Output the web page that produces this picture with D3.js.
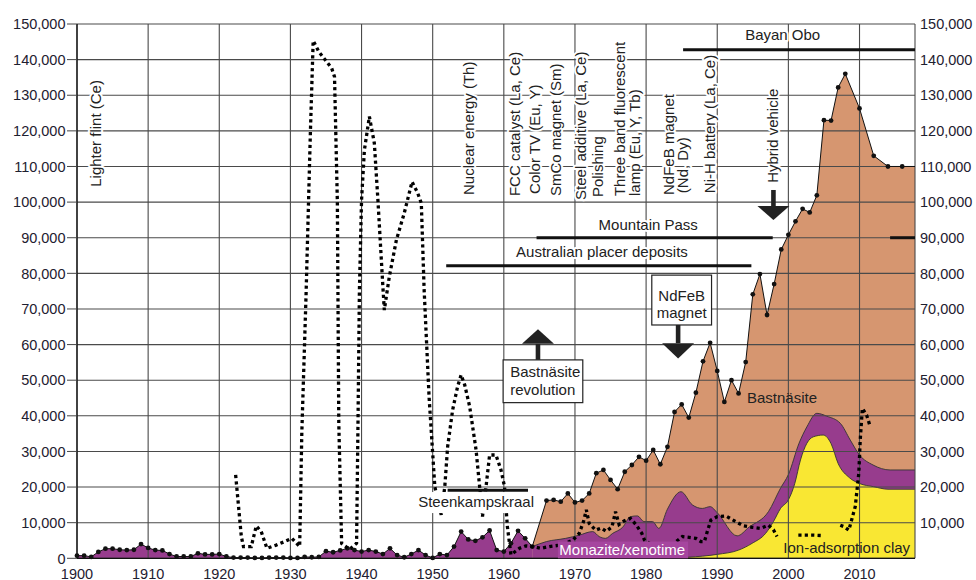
<!DOCTYPE html>
<html>
<head>
<meta charset="utf-8">
<script src="https://cdn.jsdelivr.net/npm/d3@7"></script>
<style>
  body { margin: 0; background: #fff; }
  svg { display: block; font-family: "Liberation Sans", Arial, sans-serif; }
</style>
</head>
<body>
<svg id="chart" width="976" height="580"></svg>
<script>
// world rare earth production (t REO)
const total = [
  [1900, 750], [1901, 750], [1902, 400], [1903, 1800], [1904, 2700], [1905, 2700],
  [1906, 2400], [1907, 2300], [1908, 2400], [1909, 4000], [1910, 2900], [1911, 2300],
  [1912, 2200], [1913, 1200], [1914, 500], [1915, 500], [1916, 500], [1917, 1400],
  [1918, 1100], [1919, 1100], [1920, 1200], [1921, 500], [1922, 200], [1923, 200],
  [1924, 200], [1925, 100], [1926, 100], [1927, 200], [1928, 200], [1929, 200],
  [1930, 100], [1931, 100], [1932, 400], [1933, 300], [1934, 400], [1935, 2000],
  [1936, 1700], [1937, 2200], [1938, 2800], [1939, 2300], [1940, 1900], [1941, 2300],
  [1942, 1900], [1943, 1200], [1944, 2800], [1945, 900], [1946, 300], [1947, 1200],
  [1948, 2300], [1949, 900], [1950, 100], [1951, 1200], [1952, 900], [1953, 3300],
  [1954, 7500], [1955, 5300], [1956, 4900], [1957, 5900], [1958, 7800], [1959, 2300],
  [1960, 1900], [1961, 4200], [1962, 7700], [1963, 5600], [1964, 3300],
  [1966, 16200], [1967, 16400], [1968, 15900], [1969, 18200], [1970, 15700],
  [1971, 16200], [1972, 18200], [1973, 23900], [1974, 24800], [1975, 22000],
  [1976, 19400], [1977, 24300], [1978, 26200], [1979, 28500], [1980, 27400],
  [1981, 30400], [1982, 26400], [1983, 31300], [1984, 41100], [1985, 43200],
  [1986, 39500], [1987, 46500], [1988, 55300], [1989, 60500], [1990, 52600],
  [1991, 43900], [1992, 50000], [1993, 46300], [1994, 55100], [1995, 74100],
  [1996, 79800], [1997, 68300], [1998, 77000], [1999, 86700], [2000, 90800],
  [2001, 94600], [2002, 98100], [2003, 97100], [2004, 101900], [2005, 123000],
  [2006, 122900], [2007, 132200], [2008, 136000], [2010, 126300], [2012, 113000],
  [2014, 110000], [2016, 110000]
];

// upper edge of the monazite/xenotime band after bastnasite appears
const monaziteTop = [
  [1964, 3300], [1966, 4700], [1968.7, 5600], [1970.6, 6500], [1972.5, 7500],
  [1973.4, 6100], [1974.3, 5600], [1975.3, 7000], [1976.7, 8700], [1977.8, 11700],
  [1978.8, 11900], [1979.7, 10300], [1980.9, 10300], [1981.8, 8400], [1983, 13800],
  [1984.9, 18700], [1986.5, 15000], [1987.9, 14000], [1989, 14500], [1990, 12800],
  [1992.8, 6300], [1994.5, 8800], [1997.2, 13100], [1998.9, 19700], [2000, 23500],
  [2001.5, 32300], [2002.6, 36900], [2004, 40700], [2005.4, 39900], [2007.3, 37900],
  [2008.7, 33200], [2010, 29000], [2011.9, 26200], [2014.3, 24800], [2017.8, 24800]
];

// upper edge of the ion-adsorption clay band
const clayTop = [
  [1985.9, 300], [1990, 1100], [1993, 2300], [1994.9, 4200], [1996.8, 7000],
  [1997.9, 10300], [1998.9, 14000], [2000, 16400], [2000.9, 21000], [2001.7, 27600],
  [2002.6, 32300], [2003.5, 34100], [2004.9, 34600], [2006, 32200], [2007, 26600],
  [2008.6, 22600], [2010, 21000], [2012, 20100], [2014, 19400], [2017.8, 19400]
];

// dotted series (null = break in the line)
const dotted = [
  [1922.3, 23400], [1923.1, 6100], [1923.4, 3300], [1924.5, 3300], [1925.2, 9100],
  [1925.9, 7500], [1926.7, 2800], [1928.0, 3700], [1929.2, 4700], [1930.2, 5600],
  [1931.3, 3300], [1931.6, 35000], [1932.2, 74000], [1932.8, 119000], [1933.2, 145300],
  [1934.0, 142200], [1935.8, 137600], [1936.2, 135200], [1936.6, 100000], [1936.8, 38000],
  [1937.2, 4200], [1938.3, 2500], [1939.3, 4200], [1939.5, 37900], [1939.7, 75300],
  [1940.0, 100600], [1940.4, 114600], [1941.1, 124000], [1941.8, 116500], [1942.3, 100600],
  [1943.0, 76200], [1943.2, 69700], [1943.9, 79000], [1944.9, 89400], [1946.0, 96900],
  [1947.1, 105700], [1947.9, 102500], [1948.4, 99700], [1948.8, 75300], [1949.5, 45000],
  [1950.3, 20100], [1951.2, 12200], [1951.7, 20100], [1952.1, 31300], [1952.8, 41600],
  [1953.5, 48200], [1954.0, 51500], [1954.5, 48700], [1955.2, 42600], [1956.1, 30400],
  [1956.6, 20100], [1957.0, 11700], [1957.5, 20100], [1958.0, 29000], [1958.9, 29000],
  [1959.6, 24800], [1960.1, 20100], [1960.5, 8900], [1961.0, 1000], [1962.2, 2800],
  [1963.1, 3500], [1964.0, 3300], [1965.2, 2800], [1966.4, 3300], [1967.6, 3600],
  [1968.7, 4200], [1969.7, 5100], [1970.6, 7000], [1971.2, 10300], [1971.6, 13600],
  [1972.0, 9800], [1972.9, 7900], [1973.7, 8500], [1974.4, 7600], [1975.2, 8800],
  [1975.7, 13100], [1976.2, 9500], [1976.9, 10500], [1977.8, 11200], [1978.6, 9400],
  [1979.4, 7000], [1979.8, 5000], [1981.5, 3000], [1983.5, 3500], [1985.1, 6100],
  [1986.3, 5800], [1987.0, 5600], [1987.7, 4700], [1988.2, 4700], [1988.6, 7500],
  [1989.1, 10700], [1990.0, 11700], [1991.2, 11900], [1992.6, 10300], [1993.7, 9100],
  [1994.9, 8700], [1996.1, 8400], [1997.2, 9300], [1997.9, 8000], [1998.4, 6100],
  null,
  [2001.4, 6500], [2003.5, 6500], [2004.6, 6400],
  null,
  [2007.3, 9300], [2007.8, 8900], [2008.5, 7900], [2009.4, 14500], [2009.9, 23900],
  [2010.1, 33200], [2010.4, 42100], [2011.0, 40200], [2011.5, 37000]
];

const xTicks = d3.range(1900, 2011, 10);
const yTicks = d3.range(0, 150001, 10000);

// deposits: [label, start, end, level]
const deposits = [
  ["Bayan Obo", 1985.2, 2017.8, 142800],
  ["Mountain Pass", 1964.6, 1997.8, 90000],
  ["", 2014.3, 2017.8, 90000],
  ["Australian placer deposits", 1951.9, 1994.8, 82100],
  ["Steenkampskraal", 1952.1, 1963.4, 19100]
];

// rotated application labels: [text, year of baseline, level where text starts]
const uses = [
  ["Lighter flint (Ce)", 1903.4, 104300],
  ["Nuclear energy (Th)", 1955.8, 102000],
  ["FCC catalyst (La, Ce)", 1962.3, 101700],
  ["Color TV (Eu, Y)", 1965.1, 102300],
  ["SmCo magnet (Sm)", 1968.0, 101700],
  ["Steel additive (La, Ce)", 1971.6, 100600],
  ["Polishing", 1973.9, 101400],
  ["Three band fluorescent", 1977.0, 101700],
  ["lamp (Eu, Y, Tb)", 1979.1, 101700],
  ["NdFeB magnet", 1983.9, 102000],
  ["(Nd, Dy)", 1985.9, 102500],
  ["Ni-H battery (La, Ce)", 1989.7, 102500],
  ["Hybrid vehicle", 1998.6, 105400]
];

const x = d3.scaleLinear().domain([1900, 2017.8]).range([77, 915]);
const y = d3.scaleLinear().domain([0, 150000]).range([558.3, 24]);
const xEnd = x.domain()[1];

const svg = d3.select("#chart");

const orange = "#d69670", purple = "#973c8d", yellow = "#f9e733";

// areas
const areaLin = d3.area().x(d => x(d[0])).y0(y(0)).y1(d => y(d[1]));
const areaSmooth = d3.area().x(d => x(d[0])).y0(y(0)).y1(d => y(d[1])).curve(d3.curveMonotoneX);
const lineSmooth = d3.line().x(d => x(d[0])).y(d => y(d[1])).curve(d3.curveMonotoneX);

const lastTotal = total[total.length - 1][1];
const bast = total.filter(d => d[0] >= 1964).concat([[xEnd, lastTotal]]);
svg.append("path").attr("d", areaLin(bast)).attr("fill", orange);
svg.append("path").attr("d", areaLin(total.filter(d => d[0] <= 1964))).attr("fill", purple);
svg.append("path").attr("d", areaSmooth(monaziteTop)).attr("fill", purple);
svg.append("path").attr("d", areaSmooth(clayTop)).attr("fill", yellow);
svg.append("path").attr("d", lineSmooth(monaziteTop)).attr("fill", "none").attr("stroke", "#333").attr("stroke-width", 0.9);
svg.append("path").attr("d", lineSmooth(clayTop)).attr("fill", "none").attr("stroke", "#333").attr("stroke-width", 0.9);

// grid
const grid = svg.append("g").attr("stroke", "#4a4a4a").attr("stroke-width", 1.1);
grid.selectAll(".h").data(yTicks).join("line")
  .attr("x1", x(1900)).attr("x2", x(xEnd))
  .attr("y1", d => y(d)).attr("y2", d => y(d));
grid.selectAll(".v").data(xTicks.concat([xEnd])).join("line")
  .attr("x1", d => x(d)).attr("x2", d => x(d))
  .attr("y1", y(0)).attr("y2", y(150000));
svg.append("line").attr("x1", x(1900)).attr("x2", x(1900)).attr("y1", y(0)).attr("y2", y(150000))
  .attr("stroke", "#111").attr("stroke-width", 1.3);
svg.append("line").attr("x1", x(1900)).attr("x2", x(xEnd)).attr("y1", y(0)).attr("y2", y(0))
  .attr("stroke", "#111").attr("stroke-width", 1.3);

// total production line with dots
svg.append("path")
  .attr("d", d3.line().x(d => x(d[0])).y(d => y(d[1]))(total.concat([[xEnd, lastTotal]])))
  .attr("fill", "none").attr("stroke", "#111").attr("stroke-width", 1);
svg.append("g").selectAll("circle").data(total).join("circle")
  .attr("cx", d => x(d[0])).attr("cy", d => y(d[1])).attr("r", 2.4).attr("fill", "#111");

// dotted series
svg.append("path")
  .attr("d", d3.line().defined(d => d !== null).x(d => x(d[0])).y(d => y(d[1]))(dotted))
  .attr("fill", "none").attr("stroke", "#000").attr("stroke-width", 3.3)
  .attr("stroke-dasharray", "3.2,3.2");

// white backing of the Steenkampskraal label
svg.append("rect")
  .attr("x", x(1947.7)).attr("y", y(18600))
  .attr("width", x(1964.5) - x(1947.7)).attr("height", y(12700) - y(18600))
  .attr("fill", "#fff");

// deposit bars
deposits.forEach(([label, a, b, v]) => {
  svg.append("line").attr("x1", x(a)).attr("x2", x(b)).attr("y1", y(v)).attr("y2", y(v))
    .attr("stroke", "#111").attr("stroke-width", 3);
});

const halo = sel => sel.attr("stroke", "#fff").attr("stroke-width", 4)
  .attr("paint-order", "stroke").attr("stroke-linejoin", "round");

const labels = [
  ["Bayan Obo", 1999.2, 145500],
  ["Mountain Pass", 1980.3, 92300],
  ["Australian placer deposits", 1973.8, 84700],
  ["Steenkampskraal", 1956.1, 14500]
];
svg.append("g").selectAll("text").data(labels).join("text")
  .attr("x", d => x(d[1])).attr("y", d => y(d[2]))
  .attr("text-anchor", "middle").style("font-size", "15px").attr("fill", "#222")
  .text(d => d[0]).call(halo);

// rotated use labels
svg.append("g").selectAll("text").data(uses).join("text")
  .attr("transform", d => `translate(${x(d[1])},${y(d[2])}) rotate(-90)`)
  .style("font-size", "15px").attr("fill", "#222")
  .text(d => d[0]).call(halo);

// arrows
function arrow(cx, yFrom, yBase, yTip) {
  const c = x(cx), hw = 16;
  svg.append("rect").attr("x", c - 2.3).attr("width", 4.6)
    .attr("y", Math.min(y(yFrom), y(yBase))).attr("height", Math.abs(y(yFrom) - y(yBase)))
    .attr("fill", "#222");
  svg.append("path")
    .attr("d", `M${c - hw},${y(yBase)}L${c + hw},${y(yBase)}L${c},${y(yTip)}Z`)
    .attr("fill", "#222");
}
arrow(1997.9, 103400, 98900, 95000);
arrow(1964.8, 55700, 60200, 64300);
arrow(1984.5, 65500, 60400, 56100);

// boxes
function box(x0, x1, v0, v1, lines, anchor, tx) {
  svg.append("rect").attr("x", x(x0)).attr("y", y(v0))
    .attr("width", x(x1) - x(x0)).attr("height", y(v1) - y(v0))
    .attr("fill", "#fff").attr("stroke", "#222").attr("stroke-width", 1.2);
  lines.forEach(([t, v]) => {
    svg.append("text").attr("x", x(tx)).attr("y", y(v)).attr("text-anchor", anchor)
      .style("font-size", "15px").attr("fill", "#222").text(t);
  });
}
box(1959.9, 1971.1, 55700, 43700, [["Bastnäsite", 50800], ["revolution", 45800]], "start", 1960.9);
box(1980.8, 1989.2, 79500, 65500, [["NdFeB", 72300], ["magnet", 67500]], "middle", 1985.0);

// area labels
svg.append("rect").attr("x", x(1967.6)).attr("y", y(4700))
  .attr("width", x(1985.9) - x(1967.6)).attr("height", y(0) - y(4700))
  .attr("fill", "#a6469f");
svg.append("text").attr("x", x(1967.8)).attr("y", y(900))
  .style("font-size", "15px").attr("fill", "#fff").text("Monazite/xenotime");
svg.append("text").attr("x", x(1999.1)).attr("y", y(43600)).attr("text-anchor", "middle")
  .style("font-size", "15px").attr("fill", "#222").text("Bastnäsite");
svg.append("text").attr("x", x(2008.2)).attr("y", y(1400)).attr("text-anchor", "middle")
  .style("font-size", "15px").attr("fill", "#222").text("Ion-adsorption clay");

// axis labels
const axisColor = "#1e2030";
svg.append("g").selectAll("line").data(yTicks).join("line")
  .attr("x1", x(1900) - 10).attr("x2", x(1900)).attr("y1", d => y(d)).attr("y2", d => y(d))
  .attr("stroke", "#444");
svg.append("g").selectAll("text").data(yTicks).join("text")
  .attr("x", 65.5).attr("y", d => y(d)).attr("dy", "0.36em").attr("text-anchor", "end")
  .style("font-size", "14.5px").attr("fill", axisColor).text(d => d3.format(",")(d));
svg.append("g").selectAll("text").data(yTicks.filter(d => d > 0)).join("text")
  .attr("x", 920).attr("y", d => y(d)).attr("dy", "0.36em").attr("text-anchor", "start")
  .style("font-size", "14.5px").attr("fill", axisColor).text(d => d3.format(",")(d));
svg.append("g").selectAll("text").data(xTicks).join("text")
  .attr("x", d => x(d)).attr("y", 578.5).attr("text-anchor", "middle")
  .style("font-size", "14.5px").attr("fill", axisColor).text(d => d);
</script>
</body>
</html>
